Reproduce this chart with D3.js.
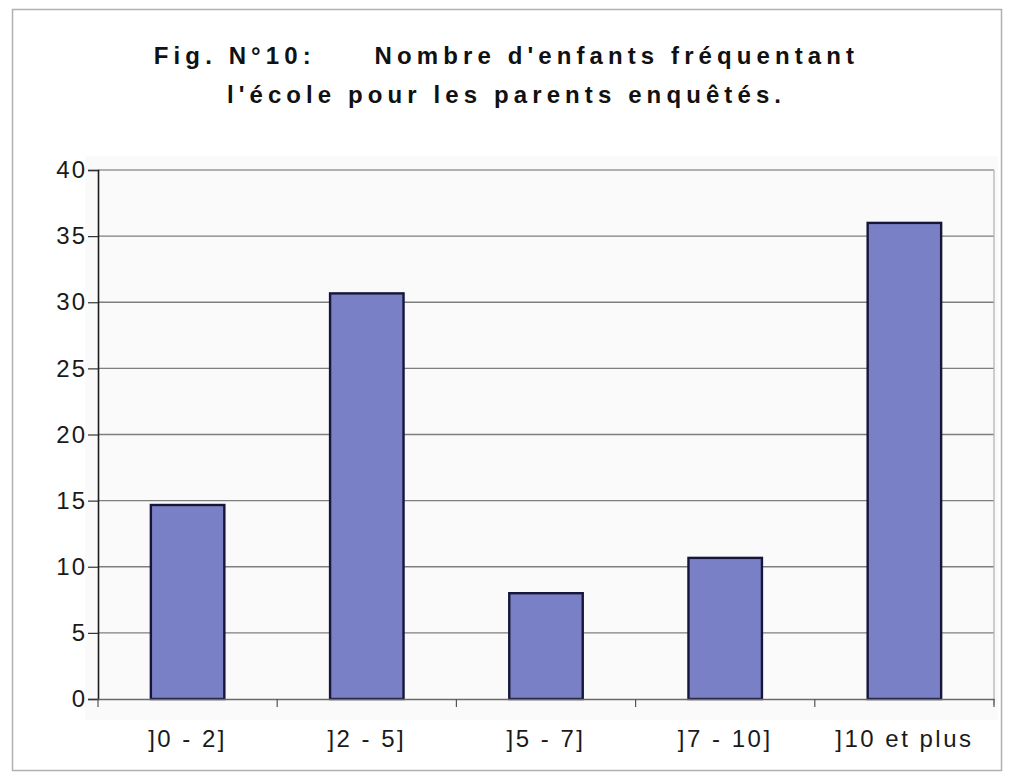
<!DOCTYPE html>
<html>
<head>
<meta charset="utf-8">
<script src="https://cdn.jsdelivr.net/npm/d3@7"></script>
<style>
  html, body { margin: 0; padding: 0; background: #ffffff; }
  svg { display: block; font-family: "Liberation Sans", Arial, sans-serif; }
</style>
</head>
<body>
<svg id="chart" width="1013" height="775"></svg>
<script>
// Nombre d'enfants fréquentant l'école (% des parents enquêtés)
const categories = ["]0 - 2]", "]2 - 5]", "]5 - 7]", "]7 - 10]", "]10 et plus"];
const values = [14.67, 30.67, 8, 10.67, 36];
const yTicks = [0, 5, 10, 15, 20, 25, 30, 35, 40];
const titleLines = ["Fig. N°10:     Nombre d'enfants fréquentant", "l'école pour les parents enquêtés."];

const svg = d3.select("#chart");
const W = 1013, H = 775;
const plot = { left: 98, right: 994, top: 170, bottom: 699 };
const labelFont = "'Liberation Sans', Arial, sans-serif";

// outer frame
svg.append("rect")
  .attr("x", 12.5).attr("y", 9.5)
  .attr("width", 989).attr("height", 761)
  .attr("fill", "#ffffff")
  .attr("stroke", "#b0b0b0").attr("stroke-width", 1.5);

// faint plot background
svg.append("rect")
  .attr("x", 85).attr("y", 156)
  .attr("width", plot.right - 85 + 4).attr("height", 720 - 156)
  .attr("fill", "#fafafa");

const x = d3.scaleBand()
  .domain(categories)
  .range([plot.left, plot.right])
  .paddingInner(0.59)
  .paddingOuter(0.295);

const y = d3.scaleLinear()
  .domain([0, 40])
  .range([plot.bottom, plot.top]);

// horizontal gridlines
svg.append("g")
  .selectAll("line")
  .data(yTicks.filter(d => d > 0))
  .join("line")
  .attr("x1", plot.left).attr("x2", plot.right)
  .attr("y1", d => y(d)).attr("y2", d => y(d))
  .attr("stroke", d => d === 40 ? "#b0b0b0" : "#7e7e7e")
  .attr("stroke-width", d => d === 40 ? 2 : 1.4);

// right border of plot area
svg.append("line")
  .attr("x1", plot.right).attr("x2", plot.right)
  .attr("y1", plot.top).attr("y2", plot.bottom + 6)
  .attr("stroke", "#b5b5b5").attr("stroke-width", 1.3);

// bars
svg.append("g")
  .selectAll("rect")
  .data(values)
  .join("rect")
  .attr("x", (d, i) => x(categories[i]))
  .attr("width", x.bandwidth())
  .attr("y", d => y(d))
  .attr("height", d => y(0) - y(d))
  .attr("fill", "#7a80c6")
  .attr("stroke", "#15163a")
  .attr("stroke-width", 2.4);

// y axis
const yAxis = d3.axisLeft(y)
  .tickValues(yTicks)
  .tickSize(10)
  .tickPadding(1)
  .tickFormat(d3.format("d"));

const gy = svg.append("g")
  .attr("transform", `translate(${plot.left},0)`)
  .call(yAxis);
gy.select(".domain").attr("stroke", "#1c1c1c").attr("stroke-width", 1.6);
gy.selectAll(".tick line").attr("stroke", "#333").attr("stroke-width", 1.2);
gy.selectAll(".tick text")
  .attr("font-size", 24)
  .attr("letter-spacing", 2)
  .attr("fill", "#1a1a1a")
  .attr("font-family", labelFont);

// x axis, labels centred under each bar
const xAxis = d3.axisBottom(x).tickSize(0).tickPadding(31);
const gx = svg.append("g")
  .attr("transform", `translate(0,${plot.bottom})`)
  .call(xAxis);
gx.select(".domain").attr("stroke", "#6a6a6a").attr("stroke-width", 1.5);
gx.selectAll(".tick text")
  .attr("font-size", 24)
  .attr("letter-spacing", 2.5)
  .attr("fill", "#1a1a1a")
  .attr("font-family", labelFont);

// category separator ticks
const step = x.step();
svg.append("g")
  .selectAll("line")
  .data(d3.range(categories.length + 1))
  .join("line")
  .attr("x1", i => plot.left + i * step)
  .attr("x2", i => plot.left + i * step)
  .attr("y1", plot.bottom).attr("y2", plot.bottom + 8)
  .attr("stroke", "#555").attr("stroke-width", 1.2);

// title
svg.append("g")
  .selectAll("text")
  .data(titleLines)
  .join("text")
  .attr("x", W / 2)
  .attr("y", (d, i) => 64 + i * 39)
  .attr("text-anchor", "middle")
  .attr("font-size", 24)
  .attr("font-weight", "bold")
  .attr("letter-spacing", 5.1)
  .attr("fill", "#111")
  .style("white-space", "pre")
  .text(d => d);
</script>
</body>
</html>
